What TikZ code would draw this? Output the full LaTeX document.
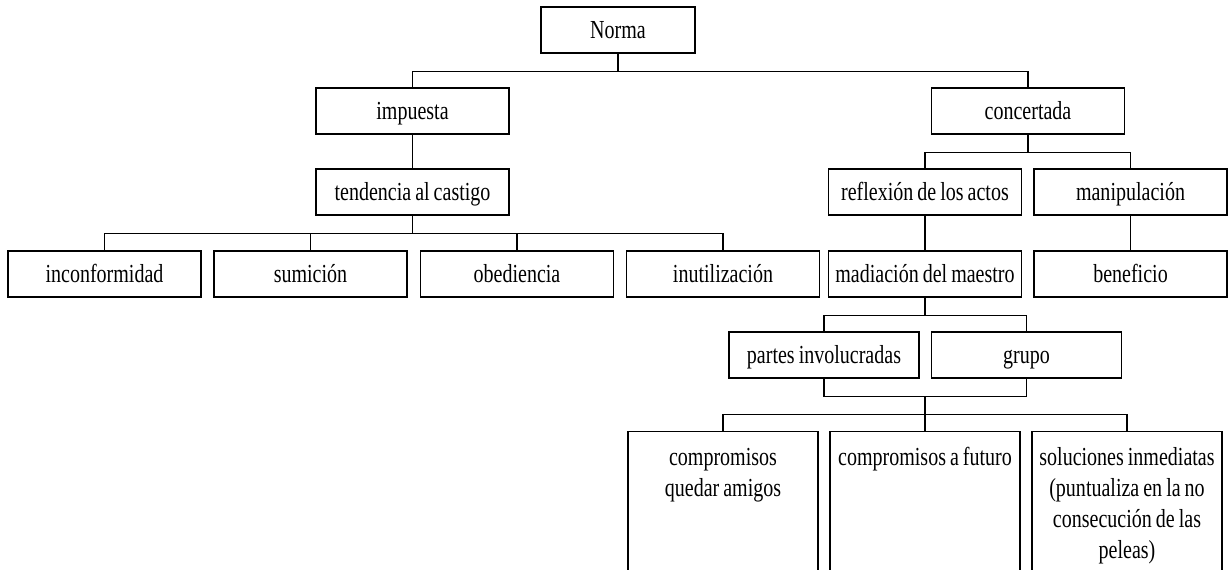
\documentclass[tikz,border=0pt]{standalone}
\usepackage{fontspec}
\setmainfont{Liberation Serif}[FakeStretch=0.77,WordSpace=0.8]

\tikzset{
  box/.style={draw, inner sep=1pt, minimum width=96.5pt, minimum height=23pt,
    text height=9pt, text depth=1pt, font=\fontsize{13}{15.5}\selectfont},
  tall/.style={box, minimum width=95pt, text width=93pt, align=flush center, anchor=north,
    inner ysep=8pt, text height=9pt, text depth=70pt},
  tree/.style={to path={-- ++(0,-18) -| (\tikztotarget)}}
}

\begin{document}
\begin{tikzpicture}[x=0.5pt,y=0.5pt,line width=0.6pt]
\useasboundingbox (0,0) rectangle (1230,-569);
\node[box, minimum width=77pt] (Nr) at (618,-30) {Norma};
\node[box] (Im) at (412.5,-111) {impuesta};
\node[box] (Co) at (1028,-111) {concertada};
\node[box] (Te) at (412.5,-192) {tendencia al castigo};
\node[box] (In) at (104.5,-274) {inconformidad};
\node[box] (Su) at (310.5,-274) {sumición};
\node[box] (Ob) at (517,-274) {obediencia};
\node[box] (Iu) at (723,-274) {inutilización};
\node[box] (Re) at (925,-192) {reflexión de los actos};
\node[box] (Ma) at (1130.5,-192) {manipulación};
\node[box] (Md) at (925,-274) {madiación del maestro};
\node[box] (Be) at (1130.5,-274) {beneficio};
\node[box, minimum width=95pt] (Pa) at (824,-355) {partes involucradas};
\node[box, minimum width=95pt] (Gr) at (1026.5,-355) {grupo};
\node[tall] (Cq) at (723,-431) {compromisos\\quedar amigos};
\node[tall] (Cf) at (925,-431) {compromisos a futuro};
\node[tall] (Si) at (1127,-431) {soluciones inmediatas\\(puntualiza en la no\\consecución de las\\peleas)};
\draw (Nr.south) to[tree] (Im.north) (Nr.south) to[tree] (Co.north);
\draw (Im) -- (Te);
\foreach \c in {In,Su,Ob,Iu} \draw (Te.south) to[tree] (\c.north);
\foreach \c in {Re,Ma} \draw (Co.south) to[tree] (\c.north);
\draw (Re) -- (Md);
\draw (Ma) -- (Be);
\foreach \c in {Pa,Gr} \draw (Md.south) to[tree] (\c.north);
\draw (Pa.south) -- ++(0,-18) coordinate (j1) -| (Gr.south);
\coordinate (J) at (Md |- j1);
\foreach \c in {Cq,Cf,Si} \draw (J) to[tree] (\c.north);
\end{tikzpicture}
\end{document}
